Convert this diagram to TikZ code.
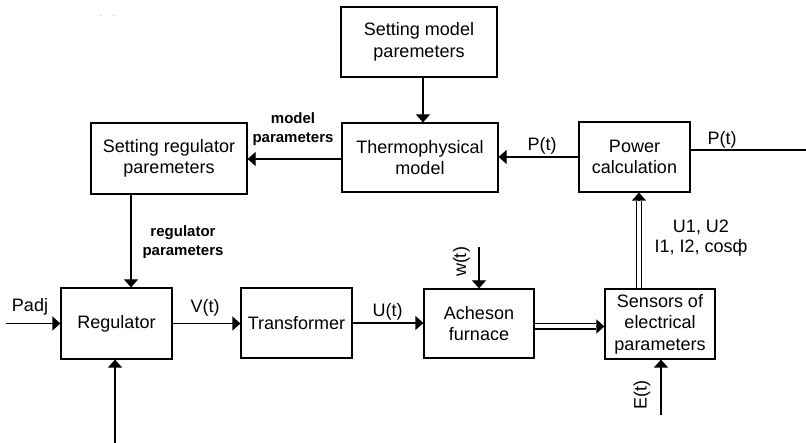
\documentclass[tikz,border=0pt]{standalone}
\usepackage{fontspec}
\setmainfont{Liberation Sans}
\usetikzlibrary{arrows.meta,calc}
\begin{document}
\begin{tikzpicture}[x=1pt,y=-1pt,
  box/.style={draw, line width=1.2pt, align=center, inner sep=0pt, font=\fontsize{18}{21.6}\selectfont},
  lbl/.style={inner sep=0pt, align=center, font=\fontsize{18}{20.5}\selectfont},
  blbl/.style={inner sep=0pt, align=center, font=\bfseries\fontsize{15}{18.5}\selectfont},
  wire/.style={line width=1.2pt},
  arr/.style={line width=1.2pt, -{Triangle[length=8pt,width=14pt]}},
  dbl/.style={double, double distance=4pt, line width=1.1pt}]
\useasboundingbox (0,0) rectangle (806,443);
% boxes
\node[box, minimum width=156pt, minimum height=70pt] (smp) at (419,42) {Setting model\\paremeters};
\node[box, minimum width=156pt, minimum height=69pt] (thermo) at (420,157.5) {Thermophysical\\model};
\node[box, minimum width=156pt, minimum height=71pt] (srp) at (169,158.5) {Setting regulator\\paremeters};
\node[box, minimum width=111pt, minimum height=70pt] (pc) at (634.5,157) {Power\\calculation};
\node[box, minimum width=111pt, minimum height=71pt] (reg) at (116.5,323.5) {Regulator};
\node[box, minimum width=111pt, minimum height=70pt] (tr) at (296.5,323) {Transformer};
\node[box, minimum width=110pt, minimum height=69pt] (ach) at (479,323.5) {Acheson\\furnace};
\node[box, minimum width=110pt, minimum height=70pt] (sens) at (660,324) {Sensors of\\electrical\\parameters};
% helper coordinates
\coordinate (xa) at (423,0);
\coordinate (ym) at (0,159);
\coordinate (xr) at (131,0);
\coordinate (padj) at (6,0);
\coordinate (bin) at (115,443);
\coordinate (win) at (479,247);
\coordinate (ein) at (661,415);
\coordinate (xs) at (639,0);
\coordinate (ya) at (0,326.5);
\coordinate (pout) at (806,150);
% connectors
\draw[arr] (smp.south -| xa) -- (thermo.north -| xa);
\draw[arr] (thermo.west |- ym) -- (srp.east |- ym);
\draw[arr] (pc.west) -- (thermo.east |- pc.west);
\draw[arr] (srp.south -| xr) -- (reg.north -| xr);
\draw[arr] (padj |- reg.west) -- (reg.west);
\draw[arr] (bin) -- (bin |- reg.south);
\draw[arr] (reg.east) -- (tr.west |- reg.east);
\draw[arr] (tr.east) -- (ach.west |- tr.east);
\draw[arr] (win) -- (win |- ach.north);
\draw[arr] (ein) -- (ein |- sens.south);
\draw[wire] (pout -| pc.east) -- (pout);
\draw[dbl, shorten >=8pt] (ach.east |- ya) -- (sens.west |- ya);
\draw[arr] ($(sens.west |- ya)+(-8,0)$) -- (sens.west |- ya);
\draw[dbl, shorten >=8pt] (sens.north -| xs) -- (pc.south -| xs);
\draw[arr] ($(pc.south -| xs)+(0,8)$) -- (pc.south -| xs);
% labels
\node[blbl] (lmp) at (293,129) {model\\parameters};
\node[blbl] (lrp) at (183,242) {regulator\\parameters};
\node[lbl] (lp1) at (542,145.5) {P(t)};
\node[lbl] (lp2) at (722,139.5) {P(t)};
\node[lbl] (lv) at (205,308) {V(t)};
\node[lbl] (lu) at (387.5,311.5) {U(t)};
\node[lbl] (lpadj) at (30,307) {Padj};
\node[lbl] (lsens) at (701,238) {U1, U2\\I1, I2, cosф};
\node[lbl, rotate=90] (lw) at (461.5,262) {w(t)};
\node[lbl, rotate=90] (le) at (642,395) {E(t)};
% specks
\fill[gray!60] (101,15.7) circle (0.6pt) (114,15.7) circle (0.6pt);
\end{tikzpicture}
\end{document}
